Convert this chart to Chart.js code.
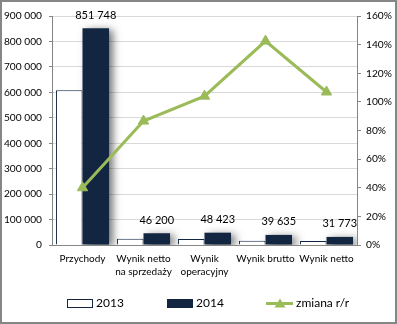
<!DOCTYPE html>
<html><head><meta charset="utf-8">
<script src="https://cdn.jsdelivr.net/npm/chart.js@4/dist/chart.umd.min.js"></script>
<style>html,body{margin:0;padding:0;background:#fff}#wrap{width:397px;height:324px;position:relative}canvas{display:block}</style>
</head><body><div id="wrap"><canvas id="c" width="397" height="324"></canvas></div>
<script>
const categories = ['Przychody', ['Wynik netto', 'na sprzedaży'], ['Wynik', 'operacyjny'], 'Wynik brutto', 'Wynik netto'];
const values2013 = [608000, 24800, 23700, 16300, 15400];
const values2014 = [851748, 46200, 48423, 39635, 31773];
const changeYoY = [0.40, 0.866, 1.04, 1.425, 1.069];
const seriesNames = ['2013', '2014', 'zmiana r/r'];

const NAVY = '#132641', GREEN = '#9BBB59', AXIS = '#868686', GRID = '#d9d9d9';
const FONT = 'Lato, "Liberation Sans", sans-serif';
const fmt = v => String(v).replace(/\B(?=(\d{3})+(?!\d))/g, ' ');

const frame = {
  id: 'frame',
  beforeDraw(chart) {
    const c = chart.ctx; c.save(); c.fillStyle = '#fff'; c.fillRect(0, 0, chart.width, chart.height); c.restore();
  },
  afterDraw(chart) {
    const c = chart.ctx; c.save();
    c.strokeStyle = AXIS; c.lineWidth = 2; c.strokeRect(1, 1, chart.width - 2, chart.height - 2);
    const y = 303.5;
    c.font = '12px ' + FONT; c.textBaseline = 'middle'; c.textAlign = 'left';
    c.lineWidth = 1; c.strokeStyle = NAVY; c.fillStyle = '#fff';
    c.fillRect(67.5, 299.5, 25, 8); c.strokeRect(67.5, 299.5, 25, 8);
    c.fillStyle = '#000'; c.fillText(seriesNames[0], 96, y);
    c.fillStyle = NAVY; c.fillRect(167, 299, 26, 9);
    c.fillStyle = '#000'; c.fillText(seriesNames[1], 196, y);
    c.strokeStyle = GREEN; c.lineWidth = 3; c.beginPath(); c.moveTo(266, y); c.lineTo(293, y); c.stroke();
    c.fillStyle = GREEN; c.beginPath(); c.moveTo(280, y - 5); c.lineTo(285.5, y + 4); c.lineTo(274.5, y + 4); c.closePath(); c.fill();
    c.fillStyle = '#000'; c.fillText(seriesNames[2], 296, y);
    c.restore();
  },
  beforeDatasetDraw(chart, args) {
    if (args.index === 1) {
      const c = chart.ctx; c.save();
      c.shadowColor = 'rgba(0,0,0,0.55)'; c.shadowBlur = 8; c.shadowOffsetX = 4; c.shadowOffsetY = 2;
    }
  },
  afterDatasetDraw(chart, args) {
    if (args.index === 1) chart.ctx.restore();
  },
  afterDatasetsDraw(chart) {
    const c = chart.ctx; const meta = chart.getDatasetMeta(1);
    c.save(); c.font = '11px ' + FONT; c.fillStyle = '#000'; c.textAlign = 'center'; c.textBaseline = 'middle';
    meta.data.forEach((el, i) => c.fillText(fmt(values2014[i]), el.x, el.y - 13));
    c.restore();
  }
};

new Chart(document.getElementById('c'), {
  data: {
    labels: categories,
    datasets: [
      { type: 'bar', label: seriesNames[0], data: values2013, backgroundColor: '#fff', borderColor: NAVY, borderWidth: 1, yAxisID: 'y', order: 1, categoryPercentage: 0.87, barPercentage: 1 },
      { type: 'bar', label: seriesNames[1], data: values2014, backgroundColor: NAVY, borderWidth: 0, yAxisID: 'y', order: 1, categoryPercentage: 0.87, barPercentage: 1 },
      { type: 'line', label: seriesNames[2], data: changeYoY, borderColor: GREEN, backgroundColor: GREEN, borderWidth: 3, pointStyle: 'triangle', pointRadius: 6, pointBorderWidth: 1, yAxisID: 'y1', order: 0, tension: 0 }
    ]
  },
  options: {
    responsive: false, animation: false, devicePixelRatio: 1,
    layout: { padding: { top: 16, right: 0, bottom: 29, left: 0 } },
    plugins: { legend: { display: false }, tooltip: { enabled: false } },
    scales: {
      x: {
        grid: { display: false, drawTicks: false },
        border: { display: true, color: AXIS, width: 1 },
        ticks: { font: { family: FONT, size: 10, lineHeight: 1.35 }, color: '#000', padding: 7, maxRotation: 0, autoSkip: false },
        afterFit(s) { s.height = 50; }
      },
      y: {
        position: 'left', min: 0, max: 900000,
        grid: { color: GRID, tickColor: AXIS, tickLength: 3 },
        border: { color: AXIS, width: 1 },
        ticks: { stepSize: 100000, font: { family: FONT, size: 10.2 }, color: '#000', padding: 7, callback: v => fmt(v) },
        afterFit(s) { s.width = 52; }
      },
      y1: {
        position: 'right', min: 0, max: 1.6,
        grid: { drawOnChartArea: false, tickColor: AXIS, tickLength: 4 },
        border: { color: AXIS, width: 1 },
        ticks: { stepSize: 0.2, font: { family: FONT, size: 10.2 }, color: '#000', padding: 5, callback: v => Math.round(v * 100) + '%' },
        afterFit(s) { s.width = 40; }
      }
    }
  },
  plugins: [frame]
});
</script>
</body></html>
